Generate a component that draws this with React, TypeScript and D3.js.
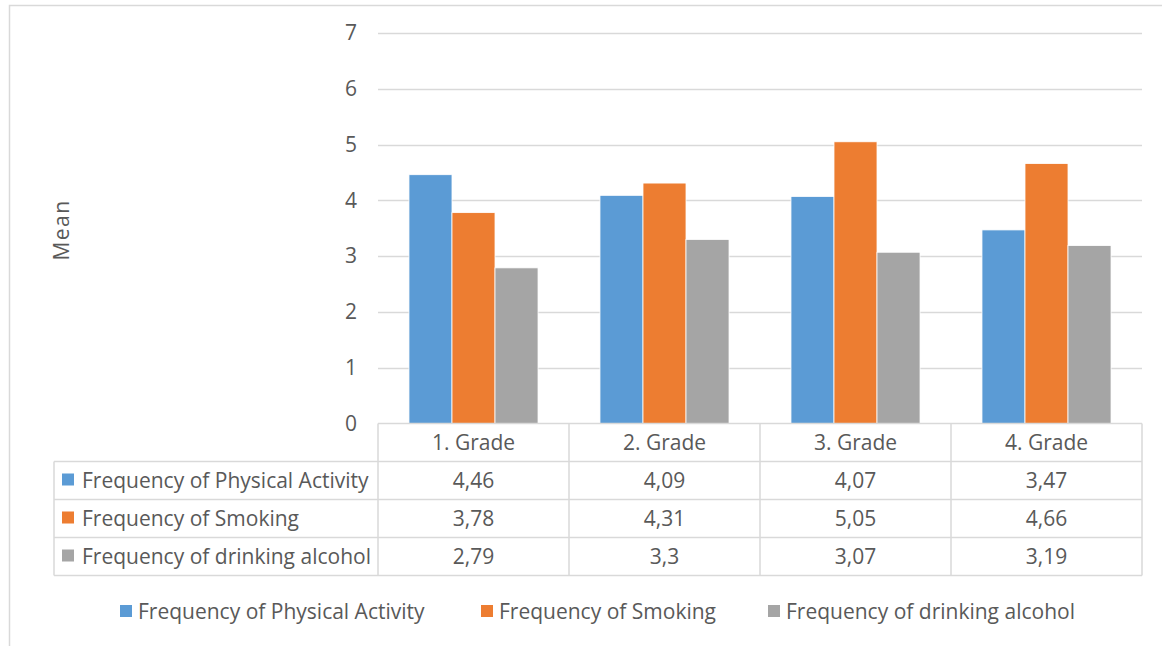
import * as d3 from "d3";
import { useEffect, useRef } from "react";

const categories = ["1. Grade", "2. Grade", "3. Grade", "4. Grade"];
const seriesNames = [
  "Frequency of Physical Activity",
  "Frequency of Smoking",
  "Frequency of drinking alcohol",
];
const physicalActivity = [4.46, 4.09, 4.07, 3.47];
const smoking = [3.78, 4.31, 5.05, 4.66];
const alcohol = [2.79, 3.3, 3.07, 3.19];
const colors = ["#5B9BD5", "#ED7D31", "#A5A5A5"];
const yTicks = [0, 1, 2, 3, 4, 5, 6, 7];

const FONT = "'Open Sans', Lato, sans-serif";
const TEXT = "#595959";
const GRID = "#D9D9D9";

export default function App() {
  const ref = useRef<SVGSVGElement | null>(null);

  useEffect(() => {
    if (!ref.current) return;
    const width = 1162;
    const height = 646;
    const svg = d3.select(ref.current);
    svg.selectAll("*").remove();
    svg.attr("viewBox", `0 0 ${width} ${height}`);

    const values = [physicalActivity, smoking, alcohol];
    const plotLeft = 378;
    const plotRight = 1142;
    const tableLeft = 54;
    const rowH = 38;
    const fs = 21;

    svg.append("rect").attr("width", width).attr("height", height).attr("fill", "#fff");
    svg
      .append("rect")
      .attr("x", 9.5)
      .attr("y", 5.5)
      .attr("width", width + 10)
      .attr("height", height + 10)
      .attr("fill", "none")
      .attr("stroke", GRID)
      .attr("stroke-width", 1.5);

    const y = d3.scaleLinear().domain([0, 7]).range([423.5, 33]);
    const x = d3.scaleBand().domain(categories).range([plotLeft, plotRight]);
    const x1 = d3
      .scaleBand<number>()
      .domain(d3.range(seriesNames.length))
      .range([0, x.bandwidth()])
      .paddingOuter(0.72);

    // gridlines
    svg
      .append("g")
      .selectAll("line")
      .data(yTicks.filter((t) => t > 0))
      .join("line")
      .attr("x1", plotLeft)
      .attr("x2", plotRight)
      .attr("y1", (d) => Math.round(y(d)) + 0.5)
      .attr("y2", (d) => Math.round(y(d)) + 0.5)
      .attr("stroke", GRID)
      .attr("stroke-width", 1.3);

    svg
      .append("g")
      .selectAll("text")
      .data(yTicks)
      .join("text")
      .attr("x", 357)
      .attr("y", (d) => y(d))
      .attr("dy", "0.35em")
      .attr("text-anchor", "end")
      .attr("font-family", FONT)
      .attr("font-size", fs)
      .attr("fill", TEXT)
      .text((d) => d);

    svg
      .append("text")
      .attr("transform", `translate(69, 230) rotate(-90)`)
      .attr("text-anchor", "middle")
      .attr("font-family", FONT)
      .attr("font-size", fs)
      .attr("letter-spacing", 1.5)
      .attr("fill", TEXT)
      .text("Mean");

    // bars
    values.forEach((vals, si) => {
      svg
        .append("g")
        .selectAll("rect")
        .data(vals)
        .join("rect")
        .attr("x", (_, i) => (x(categories[i]) ?? 0) + (x1(si) ?? 0))
        .attr("width", x1.bandwidth())
        .attr("y", (d) => y(d))
        .attr("height", (d) => y(0) - y(d))
        .attr("fill", colors[si])
        .attr("stroke", "#fff")
        .attr("stroke-width", 0.8);
    });

    // data table
    const top = y(0);
    const table = svg.append("g").attr("stroke", GRID).attr("stroke-width", 1.5);
    table
      .append("line")
      .attr("x1", plotLeft)
      .attr("x2", plotRight)
      .attr("y1", top)
      .attr("y2", top);
    d3.range(1, seriesNames.length + 2).forEach((r) => {
      table
        .append("line")
        .attr("x1", tableLeft)
        .attr("x2", plotRight)
        .attr("y1", top + rowH * r)
        .attr("y2", top + rowH * r);
    });
    table
      .append("line")
      .attr("x1", tableLeft)
      .attr("x2", tableLeft)
      .attr("y1", top + rowH)
      .attr("y2", top + rowH * 4);
    [...categories.map((c) => x(c) ?? 0), plotRight].forEach((cx) => {
      table
        .append("line")
        .attr("x1", cx)
        .attr("x2", cx)
        .attr("y1", top)
        .attr("y2", top + rowH * 4);
    });

    const cellText = svg
      .append("g")
      .attr("font-family", FONT)
      .attr("font-size", fs)
      .attr("fill", TEXT)
      .attr("text-anchor", "middle");
    categories.forEach((c) => {
      cellText
        .append("text")
        .attr("x", (x(c) ?? 0) + x.bandwidth() / 2)
        .attr("y", top + rowH / 2)
        .attr("dy", "0.35em")
        .text(c);
    });
    values.forEach((vals, r) => {
      vals.forEach((v, i) => {
        cellText
          .append("text")
          .attr("x", (x(categories[i]) ?? 0) + x.bandwidth() / 2)
          .attr("y", top + rowH * (r + 1.5))
          .attr("dy", "0.35em")
          .text(String(v).replace(".", ","));
      });
      svg
        .append("rect")
        .attr("x", 62)
        .attr("y", top + rowH * (r + 1.5) - 7)
        .attr("width", 12)
        .attr("height", 12)
        .attr("fill", colors[r]);
      svg
        .append("text")
        .attr("x", 82)
        .attr("y", top + rowH * (r + 1.5))
        .attr("dy", "0.35em")
        .attr("font-family", FONT)
        .attr("font-size", fs)
        .attr("fill", TEXT)
        .text(seriesNames[r]);
    });

    // legend
    const legendX = [120, 481, 768];
    const legend = svg
      .append("g")
      .selectAll("g")
      .data(seriesNames)
      .join("g")
      .attr("transform", (_, i) => `translate(${legendX[i]}, 612)`);
    legend
      .append("rect")
      .attr("y", -7)
      .attr("width", 12)
      .attr("height", 12)
      .attr("fill", (_, i) => colors[i]);
    legend
      .append("text")
      .attr("x", 18)
      .attr("dy", "0.35em")
      .attr("font-family", FONT)
      .attr("font-size", fs)
      .attr("fill", TEXT)
      .text((d) => d);
  }, []);

  return (
    <svg
      ref={ref}
      width={1162}
      height={646}
      style={{ position: "absolute", left: 0, top: 0, display: "block" }}
    />
  );
}
